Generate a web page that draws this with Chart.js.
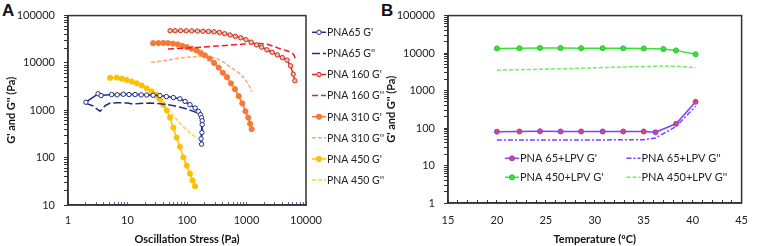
<!DOCTYPE html>
<html><head><meta charset="utf-8">
<script src="https://cdn.jsdelivr.net/npm/chart.js@4/dist/chart.umd.min.js"></script>
<style>
html,body{margin:0;padding:0;background:#fff;}
body{width:762px;height:246px;position:relative;overflow:hidden;font-family:Lato,"Open Sans",sans-serif;}
#ca{position:absolute;left:0;top:0;}
#cb{position:absolute;left:380px;top:0;}
.lbl{position:absolute;font:bold 17px "Liberation Sans",Arial,sans-serif;color:#111;}
</style></head><body>
<div class="lbl" style="left:2px;top:1px">A</div>
<div class="lbl" style="left:381px;top:1px">B</div>
<canvas id="ca" width="400" height="246"></canvas>
<canvas id="cb" width="382" height="246"></canvas>
<script>
// ---------- Panel A data (Oscillation stress sweep) ----------
const labelsA = ["PNA65 G'", "PNA65 G''", "PNA 160 G'", "PNA 160 G''", "PNA 310 G'", "PNA 310 G''", "PNA 450 G'", "PNA 450 G''"];
const stress65G1 = [2, 3.2, 3.6, 5.4, 6.7, 8.5, 10.6, 13.4, 17, 21, 27, 35, 45, 59, 76, 93, 112, 137, 155, 168, 176, 180, 180, 178, 172, 176];
const g1_65 = [1480, 2230, 2050, 2150, 2120, 2180, 2150, 2150, 2120, 2100, 2080, 2050, 1950, 1860, 1750, 1540, 1316, 1120, 950, 810, 700, 600, 500, 340, 250, 193];
const stress65G2 = [2, 2.6, 3.45, 4.2, 5.1, 7, 10, 12.4, 16, 24, 35, 45.5, 60, 87, 110, 128, 150, 165, 175, 178, 177];
const g2_65 = [1400, 1250, 950, 1250, 1420, 1450, 1420, 1350, 1400, 1420, 1380, 1320, 1250, 1120, 1020, 950, 880, 810, 650, 450, 360];
const stress160G1 = [52, 63, 78, 97, 120, 150, 185, 230, 285, 350, 430, 530, 650, 800, 980, 1200, 1480, 1800, 2200, 2700, 3300, 4000, 4800, 5500, 6100, 6500];
const g1_160 = [47900, 48000, 48000, 47800, 47500, 47200, 46800, 46300, 45500, 44000, 41500, 39000, 36500, 34000, 31000, 27500, 24000, 21500, 19000, 16800, 14800, 13000, 11500, 8700, 5800, 4200];
const stress160G2 = [48, 70, 100, 150, 220, 320, 450, 650, 900, 1250, 1700, 2300, 3000, 3700, 4500, 5300, 6000, 6400, 6600];
const g2_160 = [19800, 20200, 20700, 21300, 22000, 22700, 23400, 24300, 25000, 25600, 25900, 24500, 22000, 19800, 18500, 17200, 15800, 14000, 12300];
const stress310G1 = [27, 33, 40, 48, 58, 70, 84, 100, 120, 145, 170, 200, 240, 285, 340, 400, 470, 550, 640, 740, 850, 960, 1070, 1150, 1220];
const g1_310 = [26100, 26300, 26500, 26200, 25600, 24600, 23000, 21500, 20000, 18400, 16300, 14500, 12400, 10000, 8000, 6200, 5000, 3700, 2800, 2000, 1400, 950, 700, 520, 400];
const stress310G2 = [25, 35, 50, 70, 100, 140, 200, 260, 330, 420, 520, 640, 780, 900, 1000, 1100, 1200, 1230];
const g2_310 = [10300, 10800, 11600, 12500, 13200, 13600, 13700, 13200, 12000, 10200, 8500, 7000, 5900, 4900, 4100, 3300, 2700, 2500];
const stress450G1 = [5.1, 6.6, 8, 9.7, 11.8, 14.3, 17.3, 21, 25.5, 31, 35, 40, 45.5, 51.8, 59, 67, 76, 87, 99, 112, 124, 136];
const g1_450 = [4850, 4900, 4650, 4370, 4050, 3720, 3350, 2920, 2500, 2120, 1700, 1320, 1000, 700, 430, 265, 170, 101, 68, 46, 33, 25];
const stress450G2 = [5.5, 7, 9, 12, 16, 20, 25, 30, 36, 43, 50, 60, 70, 80, 92, 105, 120, 135, 145];
const g2_450 = [2300, 2280, 2250, 2220, 2180, 2120, 2000, 1800, 1550, 1150, 960, 760, 600, 500, 420, 360, 310, 280, 265];
const ticksA_x = [1, 10, 100, 1000, 10000];
const ticksA_y = [10, 100, 1000, 10000, 100000];

// ---------- Panel B data (Temperature sweep) ----------
const labelsB = ["PNA 65+LPV G'", "PNA 65+LPV G''", "PNA 450+LPV G'", "PNA 450+LPV G''"];
const temp65 = [20, 22.3, 24.4, 26.5, 28.6, 30.8, 32.9, 35, 36.2, 38.3, 40.3];
const gB1_65 = [80, 81, 82, 81, 81, 81, 81, 81, 77, 130, 500];
const gB2_65 = [48, 48, 48, 48, 48, 48, 49, 49, 54, 110, 380];
const temp450 = [20, 22.3, 24.4, 26.5, 28.6, 30.8, 32.9, 35, 37, 38.3, 40.3];
const gB1_450 = [13300, 13500, 13700, 13600, 13500, 13500, 13400, 13300, 12800, 11800, 9300];
const gB2_450 = [3550, 3600, 3700, 3800, 3950, 4100, 4250, 4400, 4500, 4450, 4100];
const ticksB_x = [15, 20, 25, 30, 35, 40, 45];
const ticksB_y = [1, 10, 100, 1000, 10000, 100000];

const pts = (xs, ys) => xs.map((x, i) => ({x: x, y: ys[i]}));
const FONT = 'Lato, "Open Sans", sans-serif';

const framePlugin = {
  id: 'frame',
  beforeDatasetsDraw(chart) {
    const {ctx, chartArea: a} = chart;
    ctx.save();
    ctx.strokeStyle = '#333';
    ctx.lineWidth = 1.5;
    ctx.strokeRect(a.left, a.top, a.right - a.left, a.bottom - a.top);
    ctx.restore();
  }
};

function makeLegend(items, sampleW, fontSize) {
  return {
    id: 'manualLegend',
    afterDraw(chart) {
      const ctx = chart.ctx;
      items.forEach(it => {
        const ds = chart.data.datasets[it.i];
        ctx.save();
        ctx.strokeStyle = ds.borderColor;
        ctx.lineWidth = ds.borderWidth;
        ctx.setLineDash(ds.borderDash || []);
        ctx.beginPath();
        ctx.moveTo(it.x, it.y);
        ctx.lineTo(it.x + sampleW, it.y);
        ctx.stroke();
        ctx.setLineDash([]);
        if (ds.pointRadius > 0) {
          ctx.beginPath();
          ctx.arc(it.x + sampleW / 2, it.y, ds.pointRadius, 0, Math.PI * 2);
          ctx.fillStyle = ds.pointBackgroundColor;
          ctx.fill();
          ctx.strokeStyle = ds.pointBorderColor;
          ctx.lineWidth = ds.pointBorderWidth;
          ctx.stroke();
        }
        ctx.fillStyle = '#222';
        ctx.font = fontSize + 'px ' + FONT;
        ctx.textBaseline = 'middle';
        ctx.textAlign = 'left';
        ctx.fillText(ds.label, it.x + sampleW + 1, it.y + 0.5);
        ctx.restore();
      });
    }
  };
}

const isIn = (arr, v) => arr.some(t => Math.abs(t - v) < 1e-9 * Math.max(1, t));
const keepIntegerMantissa = (s) => {
  s.ticks = s.ticks.filter(t => {
    const m = t.value / Math.pow(10, Math.floor(Math.log10(t.value) + 1e-9));
    return Math.abs(m - Math.round(m)) < 1e-6;
  });
};

function ds(label, data, o) {
  return Object.assign({
    label: label, data: data, showLine: true, borderWidth: 1.5,
    pointRadius: 0, pointBorderWidth: 1, fill: false, tension: 0
  }, o);
}

const navy = '#1c2c8c', red = '#f01e1e', orange = '#f7793a', orangeL = '#ffa56a', gold = '#ffc000', goldL = '#ffd040';

const dataA = {
  datasets: [
    ds(labelsA[0], pts(stress65G1, g1_65), {borderColor: navy, pointRadius: 2.2, pointBackgroundColor: '#fff', pointBorderColor: navy}),
    ds(labelsA[1], pts(stress65G2, g2_65), {borderColor: navy, borderDash: [8, 3]}),
    ds(labelsA[2], pts(stress160G1, g1_160), {borderColor: red, pointRadius: 2.2, pointBackgroundColor: '#b8d8b0', pointBorderColor: red}),
    ds(labelsA[3], pts(stress160G2, g2_160), {borderColor: red, borderDash: [6, 3]}),
    ds(labelsA[4], pts(stress310G1, g1_310), {borderColor: orange, pointRadius: 2.6, pointBackgroundColor: orange, pointBorderColor: orange}),
    ds(labelsA[5], pts(stress310G2, g2_310), {borderColor: orangeL, borderDash: [4, 2]}),
    ds(labelsA[6], pts(stress450G1, g1_450), {borderColor: gold, pointRadius: 2.6, pointBackgroundColor: gold, pointBorderColor: gold}),
    ds(labelsA[7], pts(stress450G2, g2_450), {borderColor: goldL, borderDash: [4, 2]})
  ]
};

const legendA = makeLegend(labelsA.map((l, i) => ({i: i, x: 312, y: 32.3 + 21.1 * i})), 14, 10.5);

new Chart(document.getElementById('ca'), {
  type: 'scatter',
  data: dataA,
  plugins: [framePlugin, legendA],
  options: {
    responsive: false, animation: false, devicePixelRatio: 1,
    layout: {padding: {left: 0, top: 13, right: 94, bottom: 0}},
    plugins: {legend: {display: false}, tooltip: {enabled: false}},
    scales: {
      x: {
        type: 'logarithmic', position: 'bottom', min: 1, max: 10000,
        afterBuildTicks: keepIntegerMantissa,
        afterFit: (s) => { s.height = 41; },
        ticks: {autoSkip: false, maxRotation: 0, padding: 12, color: '#222', font: {size: 11, family: FONT},
          callback: (v) => isIn(ticksA_x, v) ? String(v) : ''},
        grid: {drawOnChartArea: false, drawTicks: true, tickLength: -3, tickColor: '#5a68b0'},
        border: {color: '#333', width: 1.5},
        title: {display: true, text: 'Oscillation Stress (Pa)', color: '#111', font: {size: 11, weight: 'bold', family: FONT}, padding: {top: 0, bottom: 0}}
      },
      y: {
        type: 'logarithmic', position: 'left', min: 10, max: 100000,
        afterBuildTicks: keepIntegerMantissa,
        afterFit: (s) => { s.width = 68; },
        ticks: {autoSkip: false, padding: 9, color: '#222', font: {size: 11, family: FONT},
          callback: (v) => isIn(ticksA_y, v) ? String(v) : ''},
        grid: {drawOnChartArea: false, drawTicks: true, tickLength: 4, tickColor: '#333'},
        border: {color: '#333', width: 1.5},
        title: {display: true, text: "G' and G'' (Pa)", color: '#111', font: {size: 11, weight: 'bold', family: FONT}, padding: {top: 5, bottom: 0}}
      }
    }
  }
});

const purple = '#7f3fff', purpleMk = '#e0485a', green = '#33e633', greenL = '#66f266';
const dataB = {
  datasets: [
    ds(labelsB[0], pts(temp65, gB1_65), {borderColor: purple, pointRadius: 2.5, pointBackgroundColor: purpleMk, pointBorderColor: purple}),
    ds(labelsB[1], pts(temp65, gB2_65), {borderColor: purple, borderDash: [5, 2, 2, 2]}),
    ds(labelsB[2], pts(temp450, gB1_450), {borderColor: green, pointRadius: 2.5, pointBackgroundColor: green, pointBorderColor: '#2cc02c'}),
    ds(labelsB[3], pts(temp450, gB2_450), {borderColor: greenL, borderDash: [4, 2]})
  ]
};

const legendB = makeLegend([
  {i: 0, x: 125, y: 158.3}, {i: 1, x: 246.5, y: 158.3},
  {i: 2, x: 125, y: 177.3}, {i: 3, x: 246.5, y: 177.3}
], 14, 11);

new Chart(document.getElementById('cb'), {
  type: 'scatter',
  data: dataB,
  plugins: [framePlugin, legendB],
  options: {
    responsive: false, animation: false, devicePixelRatio: 1,
    layout: {padding: {left: 0, top: 11, right: 8, bottom: 0}},
    plugins: {legend: {display: false}, tooltip: {enabled: false}},
    scales: {
      x: {
        type: 'linear', position: 'bottom', min: 15, max: 45,
        afterFit: (s) => { s.height = 43; },
        ticks: {stepSize: 1, autoSkip: false, maxRotation: 0, padding: 14, color: '#222', font: {size: 11, family: FONT},
          callback: (v) => isIn(ticksB_x, v) ? String(v) : ''},
        grid: {drawOnChartArea: false, drawTicks: true, tickLength: -3, tickColor: '#333'},
        border: {color: '#333', width: 1.5},
        title: {display: true, text: 'Temperature (ºC)', color: '#111', font: {size: 11, weight: 'bold', family: FONT}, padding: {top: 0, bottom: 0}}
      },
      y: {
        type: 'logarithmic', position: 'left', min: 1, max: 100000,
        afterBuildTicks: keepIntegerMantissa,
        afterFit: (s) => { s.width = 68; },
        ticks: {autoSkip: false, padding: 9, color: '#222', font: {size: 11, family: FONT},
          callback: (v) => isIn(ticksB_y, v) ? String(v) : ''},
        grid: {drawOnChartArea: false, drawTicks: true, tickLength: 4, tickColor: '#333'},
        border: {color: '#333', width: 1.5},
        title: {display: true, text: "G' and G'' (Pa)", color: '#111', font: {size: 11, weight: 'bold', family: FONT}, padding: {top: 5, bottom: 0}}
      }
    }
  }
});
</script>
</body></html>
